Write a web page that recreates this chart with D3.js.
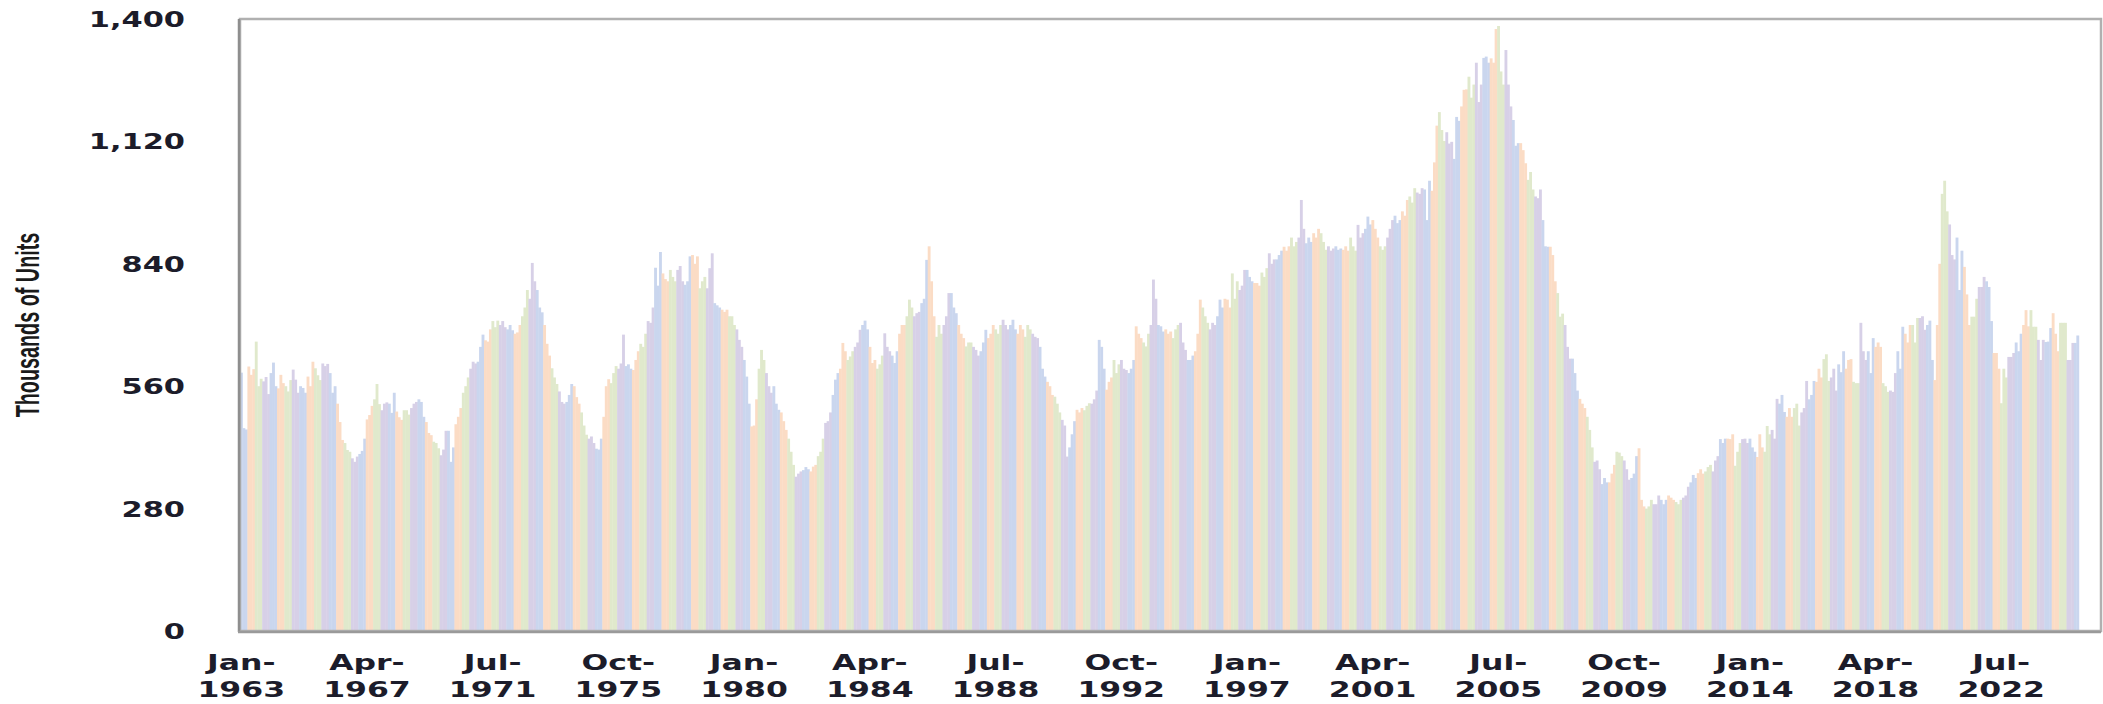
<!DOCTYPE html>
<html lang="en">
<head>
<meta charset="UTF-8">
<title>New Home Sales</title>
<script src="https://cdn.jsdelivr.net/npm/d3@7"></script>
<style>
  body { margin: 0; background: #fff; overflow: hidden; }
  svg { display: block; }
  .axis text { font-family: "DejaVu Sans", Verdana, sans-serif; font-weight: bold; font-size: 21px; fill: #1c1c2a; }
  .axis path, .axis line { display: none; }
  .title { font-family: "Liberation Sans", Arial, sans-serif; font-weight: bold; font-size: 19.8px; fill: #1a1a1a; }
</style>
</head>
<body>
<svg width="2103" height="704"></svg>
<script>
// monthly new home sales, thousands of units (Jan 1963 onwards)
const sales1960s = [
  591, 464, 461, 605, 586, 599, 662, 560, 577, 571, 581, 542,
  590, 614, 560, 555, 586, 567, 560, 548, 574, 598, 575, 545,
  560, 556, 545, 582, 560, 616, 601, 585, 574, 612, 606, 611,
  590, 545, 560, 520, 478, 437, 430, 414, 410, 395, 387, 399,
  405, 412, 440, 484, 494, 515, 530, 565, 519, 505, 520, 523,
  520, 499, 545, 502, 489, 483, 505, 505, 495, 510, 520, 524,
  530, 524, 490, 478, 453, 448, 433, 430, 418, 402, 415, 458
];
const sales1970s = [
  458, 387, 420, 473, 490, 510, 545, 560, 580, 600, 616, 612,
  616, 650, 678, 665, 662, 690, 709, 695, 710, 700, 709, 695,
  690, 700, 688, 680, 683, 700, 720, 740, 780, 760, 842, 800,
  780, 740, 729, 700, 657, 630, 601, 580, 565, 548, 524, 520,
  524, 540, 565, 560, 535, 520, 500, 470, 449, 440, 445, 430,
  417, 415, 440, 490, 560, 576, 567, 590, 606, 600, 612, 678,
  606, 610, 600, 597, 620, 640, 657, 650, 680, 709, 705, 740,
  831, 790, 867, 818, 805, 800, 826, 810, 800, 826, 835, 800,
  792, 800, 857, 860, 840, 857, 784, 800, 810, 784, 830, 864,
  750, 745, 740, 735, 730, 735, 720, 720, 700, 690, 666, 650
];
const sales1980s = [
  620, 582, 520, 468, 470, 530, 600, 643, 620, 590, 560, 545,
  560, 520, 506, 500, 480, 460, 440, 410, 380, 353, 360, 365,
  368, 375, 370, 365, 376, 380, 400, 410, 440, 476, 480, 500,
  540, 575, 590, 600, 659, 640, 620, 628, 640, 650, 660, 689,
  700, 710, 690, 650, 613, 620, 600, 610, 630, 681, 650, 640,
  630, 613, 640, 680, 700, 700, 720, 758, 740, 720, 727, 730,
  750, 760, 849, 880, 800, 720, 673, 700, 680, 700, 720, 773,
  773, 740, 727, 700, 680, 670, 651, 660, 660, 650, 643, 630,
  640, 660, 689, 670, 680, 700, 690, 680, 700, 712, 700, 690,
  700, 712, 690, 680, 700, 690, 673, 700, 690, 680, 673, 670
];
const sales1990s = [
  650, 600, 582, 570, 560, 540, 536, 520, 500, 483, 470, 399,
  420, 450, 480, 506, 500, 510, 505, 515, 521, 520, 530, 550,
  666, 650, 600, 552, 570, 580, 620, 590, 610, 620, 600, 597,
  590, 600, 620, 697, 680, 670, 660, 651, 680, 700, 804, 760,
  700, 697, 685, 690, 680, 685, 670, 690, 700, 705, 660, 643,
  620, 620, 630, 640, 680, 758, 740, 720, 705, 690, 705, 700,
  720, 758, 740, 760, 758, 740, 818, 760, 800, 780, 790, 826,
  826, 810, 800, 796, 796, 790, 820, 810, 830, 864, 840, 850,
  850, 860, 870, 879, 870, 880, 900, 880, 890, 900, 986, 920,
  887, 900, 890, 910, 900, 920, 910, 890, 872, 880, 870, 875
];
const sales2000s = [
  880, 872, 875, 872, 880, 870, 900, 880, 870, 929, 900, 910,
  920, 948, 930, 940, 920, 900, 880, 872, 880, 900, 920, 940,
  950, 933, 940, 960, 950, 986, 994, 980, 1013, 1003, 1000, 1013,
  1010, 940, 1030, 1007, 1072, 1156, 1187, 1146, 1121, 1141, 1115, 1119,
  1080, 1176, 1167, 1200, 1238, 1239, 1268, 1220, 1250, 1300, 1210, 1250,
  1311, 1314, 1300, 1310, 1300, 1377, 1384, 1280, 1250, 1329, 1250, 1200,
  1169, 1110, 1116, 1116, 1100, 1070, 1032, 1050, 1010, 994, 990, 1010,
  940, 880, 879, 879, 860, 800, 773, 719, 726, 700, 650, 623,
  623, 590, 550, 531, 520, 510, 490, 460, 420, 387, 390, 370,
  336, 350, 340, 340, 360, 380, 410, 408, 400, 390, 370, 346
];
const sales2010s = [
  350, 360, 400, 418, 300, 285, 280, 285, 300, 290, 290, 310,
  300, 290, 300, 310, 305, 300, 295, 290, 300, 305, 310, 330,
  340, 357, 350, 361, 370, 360, 365, 375, 380, 365, 390, 400,
  439, 430, 440, 440, 439, 450, 378, 410, 430, 439, 440, 430,
  440, 420, 410, 398, 450, 420, 410, 469, 450, 460, 440, 531,
  520, 540, 501, 490, 510, 490, 510, 520, 470, 500, 510, 572,
  530, 540, 572, 570, 600, 580, 622, 633, 572, 580, 600, 550,
  610, 592, 640, 600, 620, 622, 570, 567, 567, 705, 640, 620,
  640, 590, 670, 650, 660, 650, 567, 560, 547, 550, 547, 590,
  640, 600, 696, 680, 660, 700, 700, 660, 716, 716, 720, 689
];
const sales2020s = [
  700, 710, 620, 574, 700, 840, 1000, 1030, 960, 930, 860, 850,
  900, 780, 870, 833, 770, 700, 719, 719, 760, 787, 787, 810,
  800, 787, 709, 636, 636, 600, 521, 600, 580, 627, 627, 636,
  660, 640, 680, 700, 734, 697, 734, 696, 696, 666, 620, 666,
  661, 662, 693, 727, 680, 640, 705, 705, 705, 620, 620, 659,
  659, 676
];

const startYear = 1963;
const axisMonthCount = 755; // category slots on the axis (Jan 1963 - Nov 2025)
const monthNames = ["Jan", "Feb", "Mar", "Apr", "May", "Jun", "Jul", "Aug", "Sep", "Oct", "Nov", "Dec"];
const tickLabels = ["Jan-1963", "Apr-1967", "Jul-1971", "Oct-1975", "Jan-1980", "Apr-1984", "Jul-1988",
  "Oct-1992", "Jan-1997", "Apr-2001", "Jul-2005", "Oct-2009", "Jan-2014", "Apr-2018", "Jul-2022"];
const yTicks = [0, 280, 560, 840, 1120, 1400];
const quarterColors = ["#cad6ee", "#fbdcc5", "#e0e9cc", "#d7d0e7"];

const sales = [].concat(sales1960s, sales1970s, sales1980s, sales1990s, sales2000s, sales2010s, sales2020s);
const months = d3.range(axisMonthCount).map(i => monthNames[i % 12] + "-" + (startYear + Math.floor(i / 12)));
const data = sales.map((v, i) => ({ month: months[i], idx: i, value: v }));

const plot = { left: 240, right: 2101, top: 19, bottom: 631 };
const svg = d3.select("svg");

const x = d3.scaleBand().domain(months).range([plot.left, plot.right]).padding(0);
const y = d3.scaleLinear().domain([0, 1400]).range([plot.bottom, plot.top]);

// bars
svg.append("g")
  .selectAll("rect")
  .data(data)
  .join("rect")
  .attr("x", d => x(d.month))
  .attr("width", x.bandwidth() + 0.4)
  .attr("y", d => y(d.value))
  .attr("height", d => y(0) - y(d.value))
  .attr("fill", d => quarterColors[Math.floor((d.idx % 12) / 3)]);

// frame
svg.append("rect")
  .attr("x", plot.left).attr("y", plot.top)
  .attr("width", plot.right - plot.left).attr("height", plot.bottom - plot.top)
  .attr("fill", "none").attr("stroke", "#b0b0b0").attr("stroke-width", 2.5);
svg.append("line")
  .attr("x1", plot.left - 1).attr("x2", plot.left - 1).attr("y1", plot.top).attr("y2", plot.bottom + 1)
  .attr("stroke", "#8e8e8e").attr("stroke-width", 2.5);
svg.append("line")
  .attr("x1", plot.left - 2).attr("x2", plot.right).attr("y1", plot.bottom + 1).attr("y2", plot.bottom + 1)
  .attr("stroke", "#9a9a9a").attr("stroke-width", 2.5);

// y axis
const yAxis = svg.append("g")
  .attr("class", "axis")
  .attr("transform", `translate(${plot.left},0)`)
  .call(d3.axisLeft(y).tickValues(yTicks).tickSize(0).tickFormat(d3.format(",")));
yAxis.selectAll("text")
  .attr("x", -55 / 1.45)
  .attr("dy", "0.36em")
  .attr("transform", "scale(1.45,1)");

// x axis, two-line labels
const xAxis = svg.append("g")
  .attr("class", "axis")
  .attr("transform", `translate(0,${plot.bottom})`)
  .call(d3.axisBottom(x).tickValues(tickLabels).tickSize(0).tickFormat(""));
xAxis.selectAll(".tick").append("text")
  .attr("text-anchor", "middle")
  .attr("transform", "scale(1.5,1)")
  .each(function(d) {
    const parts = d.split("-");
    const t = d3.select(this);
    t.append("tspan").attr("x", 0).attr("y", 39).text(parts[0] + "-");
    t.append("tspan").attr("x", 0).attr("y", 66).text(parts[1]);
  });

// y title
svg.append("text")
  .attr("class", "title")
  .attr("transform", "translate(28,325) scale(1.65,1) rotate(-90)")
  .attr("text-anchor", "middle")
  .attr("dominant-baseline", "central")
  .text("Thousands of Units");
</script>
</body>
</html>
